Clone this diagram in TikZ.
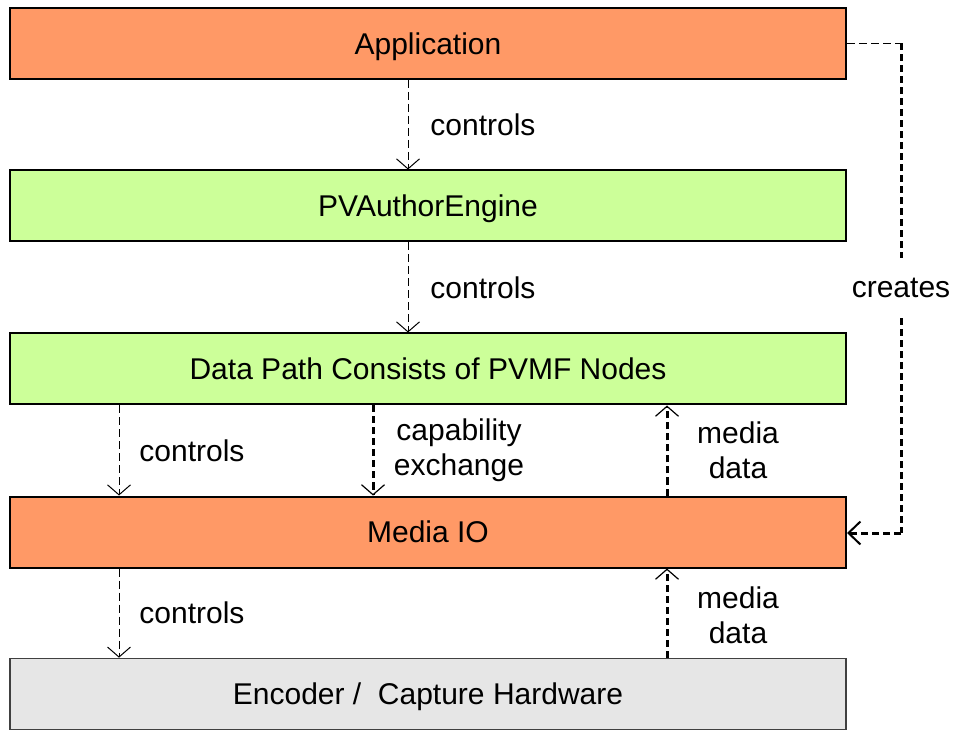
\documentclass[tikz,border=0pt]{standalone}
\usepackage{fontspec}
\setmainfont{Liberation Sans}
\usetikzlibrary{arrows.meta}
\definecolor{orng}{HTML}{FF9966}
\definecolor{grn}{HTML}{CCFF99}
\definecolor{gry}{HTML}{E6E6E6}
\begin{document}
\begin{tikzpicture}[x=0.5pt,y=-0.5pt,
  font=\fontsize{15pt}{17.5pt}\selectfont,
  box/.style={draw=black, line width=1pt, minimum width=418pt, minimum height=35.5pt, inner sep=0pt, text height=10.6pt, text depth=0pt},
  lbl/.style={inner sep=0pt, align=center},
  thinarr/.style={line width=0.5pt, dash pattern=on 4pt off 2pt,
    -{Straight Barb[length=5pt,width=11.5pt,line width=0.5pt]}},
  thickarr/.style={line width=1.5pt, dash pattern=on 3.5pt off 2pt,
    -{Straight Barb[length=5pt,width=11.5pt,line width=0.6pt]}},
  thinln/.style={line width=0.5pt, dash pattern=on 4pt off 2pt},
  thickln/.style={line width=1.5pt, dash pattern=on 3.5pt off 2pt}]
\useasboundingbox (0,0) rectangle (953,732);

% boxes
\node[box, fill=orng] (app) at (428,43.5) {Application};
\node[box, fill=grn] (pva) at (428,206) {PVAuthorEngine};
\node[box, fill=grn] (dp) at (428,369) {Data Path Consists of PVMF Nodes};
\node[box, fill=orng] (mio) at (428,532) {Media IO};
\node[box, fill=gry, draw=black!75, line width=0.8pt] (enc) at (428,694) {Encoder /\ \ Capture Hardware};

% x positions
\coordinate (xa) at (408,0);
\coordinate (xb) at (119,0);
\coordinate (xc) at (373,0);
\coordinate (xd) at (667,0);
\coordinate (xe) at (901,0);

% arrows
\draw[thinarr] (app.south -| xa) -- (pva.north -| xa);
\draw[thinarr] (pva.south -| xa) -- (dp.north -| xa);
\draw[thinarr] (dp.south -| xb) -- (mio.north -| xb);
\draw[thickarr] (dp.south -| xc) -- (mio.north -| xc);
\draw[thickarr] (mio.north -| xd) -- (dp.south -| xd);
\draw[thinarr] (mio.south -| xb) -- (enc.north -| xb);
\draw[thickarr] (enc.north -| xd) -- (mio.south -| xd);

% labels
\node[lbl, anchor=west] (l1) at (430,125) {controls};
\node[lbl, anchor=west] (l2) at (430,288) {controls};
\node[lbl, anchor=west] (l3) at (139,451) {controls};
\node[lbl] (l4) at (459,450) {capability\\exchange};
\node[lbl] (l5) at (738,450) {media\\data};
\node[lbl, anchor=west] (l6) at (139,613) {controls};
\node[lbl] (l7) at (738,615) {media\\data};

% creates
\node[lbl, minimum height=30pt] (cr) at (901,288) {creates};
\coordinate (c1) at (901,43.5);
\coordinate (c2) at (901,533);
\draw[thinln] (app.east) -- (c1);
\draw[thickln] (c1) -- (cr.north);
\draw[thickln] (cr.south) -- (c2);
\draw[line width=1.5pt, dash pattern=on 3.5pt off 2pt,
  -{Straight Barb[length=6pt,width=11.5pt,line width=1pt]}] (c2) -- (mio.east |- c2);
\end{tikzpicture}
\end{document}
